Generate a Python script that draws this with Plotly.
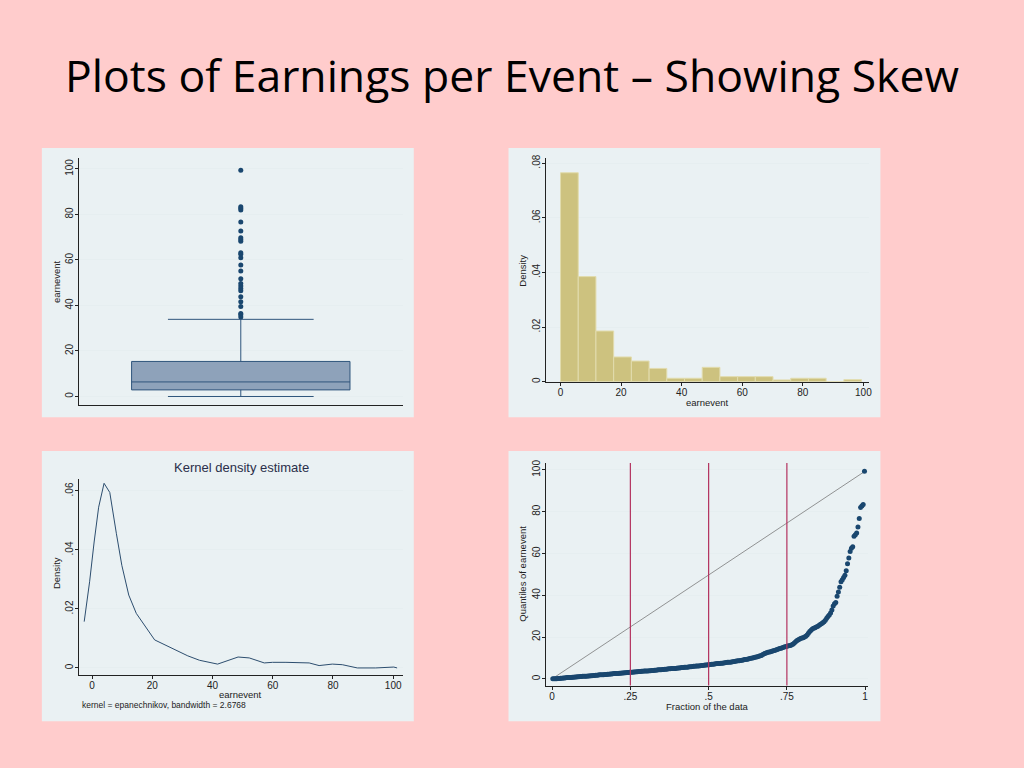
import numpy as np
import plotly.graph_objects as go

# ---------------- data ----------------
# box plot (earnevent)
box_q1 = 2.9
box_median = 6.4
box_q3 = 15.4
box_lower_whisker = 0.0
box_upper_whisker = 33.9
box_outliers = [34.9, 35.9, 36.5, 39.5, 41.6, 43.8, 46.5, 47.4, 48.5, 49.6, 51.7,
                55.1, 57.8, 61.0, 62.5, 63.2, 68.2, 69.0, 69.8, 72.7, 76.7, 82.0,
                82.7, 83.4, 99.4]

# histogram (density)
hist_edges = [0.0, 5.85, 11.69, 17.54, 23.39, 29.24, 35.08, 40.93, 46.78, 52.62,
              58.47, 64.32, 70.16, 76.01, 81.86, 87.71, 93.55, 99.4]
hist_density = [0.0765, 0.0385, 0.0186, 0.0091, 0.0076, 0.0049, 0.0013, 0.0013,
                0.0053, 0.0019, 0.0019, 0.0019, 0.0007, 0.0013, 0.0013, 0.0, 0.0008]

# kernel density estimate
kde_x = [-2.6, -0.8, 0.7, 2.2, 4.0, 5.9, 8.1, 9.9, 12.2, 14.7, 20.8, 27.4, 31.8,
         35.7, 41.7, 48.5, 52.2, 57.2, 59.9, 64.4, 72.1, 75.4, 79.8, 83.1, 88.1,
         94.2, 97.5, 100.2, 101.3]
kde_y = [0.0157, 0.0292, 0.0427, 0.0545, 0.0626, 0.0595, 0.0455, 0.0348, 0.0247,
         0.0185, 0.0095, 0.0064, 0.0041, 0.0026, 0.0013, 0.0037, 0.0034, 0.0017,
         0.0019, 0.0019, 0.0017, 0.0008, 0.0013, 0.0011, 0.0, 0.0, 0.0003, 0.0003, 0.0]
kde_note = "kernel = epanechnikov, bandwidth = 2.6768"

# quantile plot: sorted earnevent values
qq_values = [
    0.0, 0.0, 0.1, 0.1, 0.2, 0.2, 0.3, 0.3, 0.4, 0.4, 0.5, 0.6,
    0.6, 0.7, 0.7, 0.8, 0.8, 0.9, 0.9, 1.0, 1.0, 1.1, 1.1, 1.2,
    1.2, 1.3, 1.3, 1.4, 1.4, 1.5, 1.5, 1.6, 1.6, 1.7, 1.7, 1.8,
    1.9, 1.9, 2.0, 2.0, 2.1, 2.1, 2.2, 2.2, 2.3, 2.3, 2.4, 2.5,
    2.5, 2.6, 2.6, 2.7, 2.7, 2.8, 2.8, 2.9, 2.9, 3.0, 3.0, 3.1,
    3.2, 3.2, 3.3, 3.3, 3.4, 3.4, 3.5, 3.5, 3.6, 3.6, 3.7, 3.7,
    3.8, 3.8, 3.9, 3.9, 4.0, 4.0, 4.1, 4.1, 4.2, 4.3, 4.3, 4.4,
    4.5, 4.5, 4.6, 4.6, 4.7, 4.8, 4.8, 4.9, 4.9, 5.0, 5.0, 5.1,
    5.2, 5.2, 5.3, 5.4, 5.4, 5.5, 5.6, 5.6, 5.7, 5.8, 5.8, 5.9,
    6.0, 6.0, 6.1, 6.2, 6.2, 6.3, 6.4, 6.4, 6.5, 6.6, 6.6, 6.7,
    6.8, 6.9, 7.0, 7.0, 7.1, 7.2, 7.3, 7.3, 7.4, 7.5, 7.5, 7.6,
    7.7, 7.8, 7.9, 8.0, 8.0, 8.1, 8.2, 8.3, 8.4, 8.5, 8.6, 8.7,
    8.8, 8.9, 9.0, 9.2, 9.3, 9.4, 9.5, 9.7, 9.8, 10.0, 10.1, 10.3,
    10.4, 10.6, 10.8, 11.0, 11.2, 11.6, 12.0, 12.3, 12.5, 12.7, 12.8, 13.0,
    13.2, 13.4, 13.6, 13.8, 14.0, 14.3, 14.5, 14.7, 14.9, 15.1, 15.3, 15.5,
    15.7, 15.8, 16.0, 16.2, 16.5, 17.0, 17.6, 18.2, 18.6, 19.0, 19.3, 19.5,
    19.7, 20.0, 20.4, 21.0, 21.8, 22.6, 23.3, 23.8, 24.2, 24.5, 24.8, 25.1,
    25.5, 26.0, 26.4, 26.8, 27.3, 28.0, 29.0, 29.8, 30.5, 31.5, 33.0,
    34.9, 35.9, 36.5, 39.5, 41.6, 43.8, 46.5, 47.4, 48.5, 49.6, 51.7,
    55.1, 57.8, 61.0, 62.5, 63.2, 68.2, 69.0, 69.8, 72.7, 76.7, 82.0,
    82.7, 83.4, 99.4]
qq_ref_fracs = [0.25, 0.5, 0.75]

# tick labels
ticks_0_100 = [0, 20, 40, 60, 80, 100]
dens_ticks_hist = [0, 0.02, 0.04, 0.06, 0.08]
dens_ticks_kde = [0, 0.02, 0.04, 0.06]
frac_ticks = [0, 0.25, 0.5, 0.75, 1]
frac_labels = ["0", ".25", ".5", ".75", "1"]


def dlab(v):
    return "0" if v == 0 else ("%.2f" % v)[1:]


# ---------------- style ----------------
W, H = 1024, 768
PINK = "#ffcccc"
PANEL = "#eaf1f3"
GRID = "#e6eef0"
NAVY = "#1a476f"
AXC = "#222222"
TICKF = dict(family="Liberation Sans, Arial, sans-serif", size=10, color="#222222")
TITLEF = dict(family="Liberation Sans, Arial, sans-serif", size=9.5, color="#222222")


def px(x):
    return x / W


def py(y):
    return 1 - y / H


fig = go.Figure()

# ---- panel 1: box plot ----
fig.add_trace(go.Box(
    x=[0], q1=[box_q1], median=[box_median], q3=[box_q3],
    lowerfence=[box_lower_whisker], upperfence=[box_upper_whisker],
    width=0.674, whiskerwidth=0.667, boxpoints=False,
    fillcolor="#8ea2ba", line=dict(color="#2f557c", width=1),
    xaxis="x", yaxis="y", showlegend=False))
fig.add_trace(go.Scatter(
    x=[0] * len(box_outliers), y=box_outliers, mode="markers",
    marker=dict(color=NAVY, size=5), xaxis="x", yaxis="y", showlegend=False))

# ---- panel 2: histogram ----
edges = np.array(hist_edges)
fig.add_trace(go.Bar(
    x=(edges[:-1] + edges[1:]) / 2, y=hist_density, width=np.diff(edges),
    marker=dict(color="#cdc27f", line=dict(color="#e2dcae", width=1)),
    xaxis="x2", yaxis="y2", showlegend=False))

# ---- panel 3: kernel density ----
fig.add_trace(go.Scatter(
    x=kde_x, y=kde_y, mode="lines", line=dict(color="#2c4d6e", width=1),
    xaxis="x3", yaxis="y3", showlegend=False))

# ---- panel 4: quantile plot ----
n = len(qq_values)
qq_frac = (np.arange(1, n + 1) - 0.5) / n
fig.add_trace(go.Scatter(
    x=[0, 1], y=[min(qq_values), max(qq_values)], mode="lines",
    line=dict(color="#7a7a7a", width=0.8), xaxis="x4", yaxis="y4", showlegend=False))
fig.add_trace(go.Scatter(
    x=qq_frac, y=qq_values, mode="markers",
    marker=dict(color=NAVY, size=5), xaxis="x4", yaxis="y4", showlegend=False))

shapes = []
# panel backgrounds
for (x0, x1, y0, y1) in [(42, 415, 145, 416), (510, 883, 145, 416),
                         (42, 415, 450, 722), (510, 883, 450, 722)]:
    shapes.append(dict(type="rect", xref="paper", yref="paper", x0=px(x0), x1=px(x1),
                       y0=py(y1), y1=py(y0), fillcolor=PANEL, line=dict(width=0),
                       layer="below"))
for f in qq_ref_fracs:
    shapes.append(dict(type="line", xref="x4", yref="y4 domain", x0=f, x1=f, y0=0, y1=1,
                       line=dict(color="#b3325f", width=1.2)))


def yax(domain, rng, tickvals, ticktext=None):
    d = dict(domain=[py(domain[1]), py(domain[0])], range=rng, tickvals=tickvals,
             tickangle=-90, ticks="outside", ticklen=3, tickcolor=AXC, tickwidth=1,
             ticklabelstandoff=-2,
             showline=True, linecolor=AXC, linewidth=1, showgrid=True,
             gridcolor=GRID, gridwidth=1, zeroline=False, tickfont=TICKF,
             fixedrange=True)
    if ticktext is not None:
        d["ticktext"] = ticktext
    return d


def xax(domain, rng, tickvals=None, ticktext=None, labels=True):
    d = dict(domain=[px(domain[0]), px(domain[1])], range=rng, showline=True,
             linecolor=AXC, linewidth=1, showgrid=False, zeroline=False,
             tickfont=TICKF, fixedrange=True)
    if labels:
        d.update(tickvals=tickvals, ticks="outside", ticklen=3, tickcolor=AXC,
                 tickwidth=1, ticklabelstandoff=-2)
        if ticktext is not None:
            d["ticktext"] = ticktext
    else:
        d.update(showticklabels=False, ticks="")
    return d


layout = dict(
    width=W, height=H, margin=dict(l=0, r=0, t=0, b=0),
    paper_bgcolor=PINK, plot_bgcolor="white", showlegend=False,
    xaxis=xax((79, 404), [-0.5, 0.5], labels=False),
    yaxis=yax((155, 404), [-3.9, 104.8], ticks_0_100),
    xaxis2=xax((547.3, 872), [-4.9, 102], ticks_0_100),
    yaxis2=yax((155, 380.3), [0, 0.0819], dens_ticks_hist,
               [dlab(v) for v in dens_ticks_hist]),
    xaxis3=xax((79.3, 404), [-4.3, 103.2], ticks_0_100),
    yaxis3=yax((478, 675), [-0.00226, 0.0641], dens_ticks_kde,
               [dlab(v) for v in dens_ticks_kde]),
    xaxis4=xax((547.3, 871), [-0.0205, 1.0106], frac_ticks, frac_labels),
    yaxis4=yax((462, 686), [-3.2, 103.3], ticks_0_100),
    shapes=shapes,
)
layout["xaxis"]["anchor"] = "y"
layout["yaxis"]["anchor"] = "x"
for k in ["2", "3", "4"]:
    layout["xaxis" + k]["anchor"] = "y" + k
    layout["yaxis" + k]["anchor"] = "x" + k

ann = []
# slide title
ann.append(dict(text="Plots of Earnings per Event \u2013 Showing Skew", x=px(63), y=py(71),
                xref="paper", yref="paper", xanchor="left", yanchor="middle",
                showarrow=False, font=dict(family="Open Sans, Carlito, Calibri, sans-serif",
                                           size=44.5, color="black")))
# axis titles
for (t, x, y, ang) in [("earnevent", 56, 279, -90),
                       ("Density", 524, 268, -90),
                       ("earnevent", 710, 401, 0),
                       ("Density", 56, 573, -90),
                       ("earnevent", 241, 695, 0),
                       ("Quantiles of earnevent", 524, 573, -90),
                       ("Fraction of the data", 710, 707, 0)]:
    ann.append(dict(text=t, x=px(x), y=py(y), xref="paper", yref="paper",
                    xanchor="center", yanchor="middle", textangle=ang,
                    showarrow=False, font=TITLEF))
ann.append(dict(text="Kernel density estimate", x=px(242), y=py(467), xref="paper",
                yref="paper", xanchor="center", yanchor="middle", showarrow=False,
                font=dict(family="Liberation Sans, Arial, sans-serif", size=13,
                          color="#2b2f4a")))
ann.append(dict(text=kde_note, x=px(80), y=py(706), xref="paper", yref="paper",
                xanchor="left", yanchor="middle", showarrow=False,
                font=dict(family="Liberation Sans, Arial, sans-serif", size=8.5,
                          color="#222222")))
layout["annotations"] = ann

fig.update_layout(**layout)
fig.write_html("out.html", config={"displayModeBar": False},
               post_script="document.body.style.margin='0';document.body.style.overflow='hidden';")
